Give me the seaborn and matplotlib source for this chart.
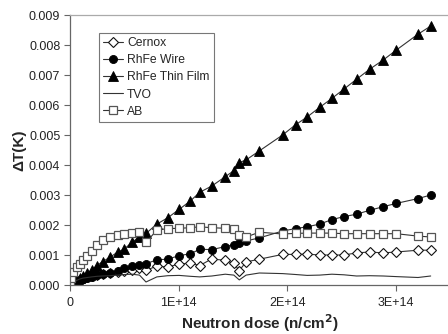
import matplotlib
matplotlib.use("Agg")
import matplotlib.pyplot as plt
import seaborn as sns
import pandas as pd

# Neutron dose grid (units of 1E+14 n/cm^2)
dose = [0, 0.01, 0.03, 0.06, 0.09, 0.12, 0.16, 0.20, 0.25, 0.30, 0.37, 0.44, 0.50,
        0.57, 0.64, 0.70, 0.80, 0.90, 1.005, 1.108, 1.195, 1.306, 1.430, 1.509,
        1.559, 1.622, 1.744, 1.958, 2.077, 2.184, 2.299, 2.412, 2.523, 2.640,
        2.759, 2.885, 3.005, 3.205, 3.322]

cernox = [0, 0.00003, 0.00008, 0.00013, 0.00018, 0.00022, 0.00026, 0.00030, 0.00034,
          0.00037, 0.00040, 0.00043, 0.00046, 0.00050, 0.00056, 0.00049, 0.00063,
          0.00060, 0.00070, 0.00073, 0.00065, 0.00087, 0.00082, 0.00072, 0.00048,
          0.00077, 0.00086, 0.00102, 0.00102, 0.00103, 0.00100, 0.00100, 0.00100,
          0.00107, 0.00110, 0.00107, 0.00110, 0.00116, 0.00116]

rhfe_wire = [0, 0.00002, 0.00006, 0.00010, 0.00015, 0.00020, 0.00024, 0.00028, 0.00032,
             0.00036, 0.00040, 0.00048, 0.00057, 0.00062, 0.00066, 0.00071, 0.00084,
             0.00086, 0.00098, 0.00104, 0.00119, 0.00118, 0.00128, 0.00135, 0.00140,
             0.00147, 0.00157, 0.00180, 0.00188, 0.00194, 0.00203, 0.00218, 0.00228,
             0.00236, 0.00249, 0.00261, 0.00272, 0.00288, 0.00300]

rhfe_film = [0, 0.00003, 0.00010, 0.00017, 0.00025, 0.00031, 0.00040, 0.00050, 0.00065,
             0.00078, 0.00093, 0.00110, 0.00120, 0.00142, 0.00160, 0.00172, 0.00203,
             0.00224, 0.00252, 0.00280, 0.00309, 0.00330, 0.00361, 0.00381, 0.00408,
             0.00417, 0.00447, 0.00500, 0.00534, 0.00560, 0.00592, 0.00622, 0.00653,
             0.00686, 0.00719, 0.00750, 0.00783, 0.00836, 0.00863]

tvo = [0, 0.00005, 0.00010, 0.00015, 0.00020, 0.00023, 0.00025, 0.00027, 0.00029,
       0.00030, 0.00031, 0.00033, 0.00035, 0.00036, 0.00033, 0.00010, 0.00027,
       0.00031, 0.00032, 0.00029, 0.00027, 0.00030, 0.00036, 0.00033, 0.00017,
       0.00033, 0.00040, 0.00038, 0.00035, 0.00032, 0.00033, 0.00036, 0.00034,
       0.00030, 0.00031, 0.00030, 0.00028, 0.00025, 0.00030]

ab = [0, 0.00025, 0.00045, 0.00060, 0.00070, 0.00082, 0.00097, 0.00115, 0.00135,
      0.00150, 0.00160, 0.00166, 0.00170, 0.00172, 0.00178, 0.00142, 0.00183,
      0.00188, 0.00189, 0.00191, 0.00194, 0.00191, 0.00189, 0.00187, 0.00168,
      0.00160, 0.00176, 0.00170, 0.00172, 0.00173, 0.00173, 0.00173, 0.00171,
      0.00171, 0.00171, 0.00171, 0.00171, 0.00163, 0.00160]

x_ticks = [0, 1e14, 2e14, 3e14]
x_tick_labels = ["0", "1E+14", "2E+14", "3E+14"]
y_ticks = [0.000, 0.001, 0.002, 0.003, 0.004, 0.005, 0.006, 0.007, 0.008, 0.009]

sns.set_style("ticks")
plt.rcParams["font.family"] = ["Liberation Sans", "DejaVu Sans"]

fig = plt.figure(figsize=(4.48, 3.34), dpi=100)
ax = fig.add_axes([70 / 448, 49 / 334, 380 / 448, 270 / 334])

line_col = "#333333"
series = [
    ("Cernox", cernox, dict(marker="D", markersize=4.6, markerfacecolor="white",
                            markeredgecolor="#111111", markeredgewidth=0.8)),
    ("RhFe Wire", rhfe_wire, dict(marker="o", markersize=5.8, markerfacecolor="black",
                                  markeredgecolor="black", markeredgewidth=0.6)),
    ("RhFe Thin Film", rhfe_film, dict(marker="^", markersize=6.8, markerfacecolor="black",
                                       markeredgecolor="black", markeredgewidth=0.6)),
    ("TVO", tvo, dict(marker=None)),
    ("AB", ab, dict(marker="s", markersize=5.8, markerfacecolor="white",
                    markeredgecolor="#555555", markeredgewidth=0.9)),
]

for name, vals, style in series:
    df = pd.DataFrame({"dose": [d * 1e14 for d in dose], "dT": vals})
    sns.lineplot(data=df, x="dose", y="dT", ax=ax, color=line_col, linewidth=0.8,
                 label=name, errorbar=None, sort=True, **style)

ax.set_xlim(0, 3.5e14)
ax.set_ylim(0, 0.009)
ax.set_xticks(x_ticks)
ax.set_xticklabels(x_tick_labels)
ax.set_yticks(y_ticks)
ax.set_yticklabels([f"{v:.3f}" for v in y_ticks])
ax.tick_params(axis="both", labelsize=9, colors="#222222", length=4, width=0.8,
               direction="out")
ax.tick_params(axis="both", color="#666666")
ax.tick_params(axis="x", pad=5)
ax.tick_params(axis="y", pad=3)

for side in ["left", "bottom"]:
    ax.spines[side].set_color("#666666")
    ax.spines[side].set_linewidth(0.9)
ax.spines["top"].set_visible(True)
ax.spines["top"].set_color("#aaaaaa")
ax.spines["top"].set_linewidth(0.9)
ax.spines["right"].set_visible(False)

ax.set_xlabel("Neutron dose (n/cm$^{\\mathbf{2}}$)", fontsize=11, fontweight="bold",
              labelpad=2)
ax.set_ylabel("ΔT(K)", fontsize=11, fontweight="bold", labelpad=2)

leg = ax.legend(loc="upper left", bbox_to_anchor=(0.0755, 0.933), fontsize=8.7,
                frameon=True, fancybox=False, handlelength=1.7, handletextpad=0.3,
                labelspacing=0.42, borderpad=0.35, borderaxespad=0)
leg.get_frame().set_edgecolor("#555555")
leg.get_frame().set_linewidth(0.8)

fig.savefig("out.png", dpi=100)
